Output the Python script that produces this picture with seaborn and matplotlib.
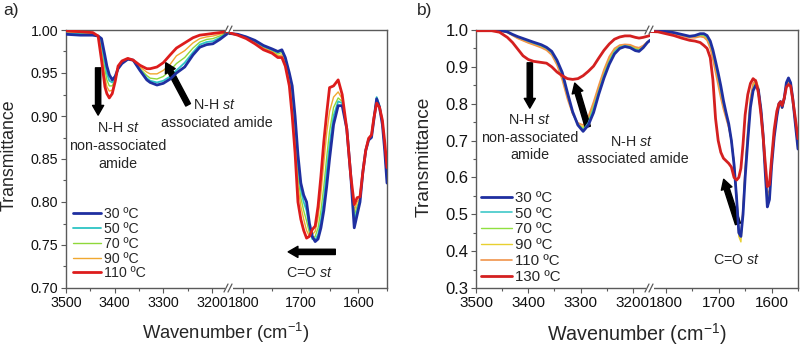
import matplotlib
matplotlib.use("Agg")
import matplotlib.pyplot as plt
import seaborn as sns
from matplotlib.lines import Line2D
from matplotlib.patches import Rectangle
from matplotlib.ticker import MultipleLocator, FormatStrFormatter

sns.set_style("ticks")
plt.rcParams["font.family"] = ["Liberation Sans", "DejaVu Sans"]
plt.rcParams["mathtext.fontset"] = "custom"
plt.rcParams["mathtext.rm"] = "Liberation Sans"
plt.rcParams["mathtext.it"] = "Liberation Sans:italic"

# ---------------- data: panel a ----------------
a_labels = ["30 ºC", "50 ºC", "70 ºC", "90 ºC", "110 ºC"]
a_colors = ["#1f2fa0", "#2cc4c4", "#8fd83a", "#f0a830", "#dd1c1c"]

a_x_hi = [3500, 3470, 3445, 3434, 3427, 3420, 3416, 3411, 3405, 3399, 3393, 3385, 3373,
          3362, 3348, 3334, 3327, 3313, 3300, 3286, 3273, 3256, 3239, 3225, 3211, 3198,
          3184, 3170, 3165]
a30_hi = [0.995, 0.994, 0.994, 0.993, 0.990, 0.970, 0.958, 0.948, 0.942, 0.946, 0.955, 0.961, 0.966,
          0.965, 0.953, 0.942, 0.939, 0.936, 0.938, 0.943, 0.950, 0.957, 0.971, 0.980, 0.983, 0.984,
          0.989, 0.995, 0.997]
a50_hi = [0.996, 0.995, 0.995, 0.993, 0.985, 0.962, 0.950, 0.941, 0.939, 0.944, 0.955, 0.962, 0.966,
          0.965, 0.954, 0.944, 0.941, 0.939, 0.941, 0.946, 0.953, 0.962, 0.974, 0.983, 0.986, 0.987,
          0.991, 0.996, 0.998]
a70_hi = [0.997, 0.996, 0.996, 0.993, 0.980, 0.954, 0.942, 0.935, 0.935, 0.942, 0.956, 0.963, 0.967,
          0.965, 0.955, 0.947, 0.944, 0.943, 0.946, 0.953, 0.961, 0.968, 0.979, 0.986, 0.989, 0.990,
          0.993, 0.997, 0.998]
a90_hi = [0.998, 0.997, 0.996, 0.993, 0.973, 0.945, 0.934, 0.929, 0.930, 0.940, 0.957, 0.963, 0.967,
          0.965, 0.957, 0.951, 0.949, 0.949, 0.953, 0.960, 0.970, 0.976, 0.985, 0.990, 0.992, 0.993,
          0.995, 0.997, 0.999]
a110_hi = [0.999, 0.998, 0.997, 0.993, 0.965, 0.934, 0.926, 0.921, 0.926, 0.940, 0.958, 0.964, 0.967,
           0.965, 0.959, 0.955, 0.955, 0.957, 0.962, 0.971, 0.979, 0.985, 0.991, 0.994, 0.995, 0.996,
           0.997, 0.998, 0.999]

a_x_lo = [1825, 1810, 1795, 1780, 1765, 1750, 1740, 1733, 1727, 1720, 1715, 1710, 1705, 1700,
          1695, 1690, 1685, 1680, 1675, 1670, 1665, 1660, 1655, 1650, 1643, 1635, 1628, 1620,
          1613, 1607, 1602, 1597, 1592, 1587, 1582, 1577, 1573, 1568, 1563, 1558, 1554, 1550]
a30_lo = [0.996, 0.995, 0.992, 0.988, 0.982, 0.978, 0.975, 0.977, 0.968, 0.950, 0.935, 0.900, 0.855, 0.822,
          0.808, 0.800, 0.775, 0.760, 0.754, 0.757, 0.770, 0.790, 0.818, 0.850, 0.890, 0.912, 0.912, 0.885,
          0.830, 0.770, 0.785, 0.800, 0.835, 0.860, 0.872, 0.875, 0.895, 0.920, 0.910, 0.890, 0.860, 0.822]
a50_lo = [0.996, 0.995, 0.992, 0.987, 0.981, 0.977, 0.974, 0.976, 0.967, 0.948, 0.928, 0.890, 0.843, 0.815,
          0.800, 0.790, 0.770, 0.757, 0.756, 0.762, 0.778, 0.802, 0.835, 0.866, 0.900, 0.917, 0.915, 0.885,
          0.830, 0.778, 0.790, 0.802, 0.835, 0.860, 0.873, 0.876, 0.896, 0.922, 0.912, 0.892, 0.862, 0.825]
a70_lo = [0.996, 0.995, 0.991, 0.986, 0.980, 0.976, 0.972, 0.974, 0.965, 0.945, 0.920, 0.880, 0.830, 0.805,
          0.790, 0.778, 0.764, 0.758, 0.760, 0.770, 0.790, 0.818, 0.852, 0.882, 0.910, 0.921, 0.917, 0.885,
          0.830, 0.784, 0.795, 0.803, 0.835, 0.860, 0.873, 0.877, 0.896, 0.921, 0.911, 0.893, 0.864, 0.830]
a90_lo = [0.996, 0.994, 0.991, 0.985, 0.979, 0.975, 0.970, 0.971, 0.962, 0.940, 0.912, 0.870, 0.818, 0.795,
          0.780, 0.767, 0.760, 0.762, 0.766, 0.782, 0.810, 0.845, 0.880, 0.905, 0.922, 0.928, 0.920, 0.885,
          0.830, 0.790, 0.800, 0.804, 0.835, 0.860, 0.874, 0.877, 0.897, 0.918, 0.911, 0.894, 0.867, 0.835]
a110_lo = [0.997, 0.994, 0.990, 0.984, 0.977, 0.973, 0.968, 0.968, 0.958, 0.935, 0.900, 0.857, 0.800, 0.780,
           0.767, 0.758, 0.760, 0.768, 0.772, 0.795, 0.830, 0.870, 0.903, 0.933, 0.935, 0.942, 0.925, 0.885,
           0.830, 0.797, 0.805, 0.806, 0.835, 0.860, 0.874, 0.878, 0.897, 0.915, 0.910, 0.895, 0.870, 0.840]

# ---------------- data: panel b ----------------
b_labels = ["30 ºC", "50 ºC", "70 ºC", "90 ºC", "110 ºC", "130 ºC"]
b_colors = ["#1f2fa0", "#40c8c8", "#90e040", "#e8d030", "#f0944a", "#d42020"]

b_x_hi = [3500, 3470, 3455, 3440, 3430, 3420, 3410, 3400, 3390, 3375, 3365, 3355, 3345, 3335, 3325,
          3315, 3305, 3295, 3285, 3275, 3265, 3255, 3245, 3235, 3225, 3215, 3205, 3195, 3188, 3180,
          3172, 3167]
b30_hi = [1.000, 1.000, 0.999, 0.995, 0.988, 0.982, 0.977, 0.972, 0.967, 0.960, 0.953, 0.942, 0.918, 0.885, 0.830,
          0.778, 0.742, 0.725, 0.742, 0.776, 0.826, 0.870, 0.907, 0.935, 0.950, 0.955, 0.952, 0.944, 0.942, 0.952,
          0.966, 0.972]
b50_hi = [1.000, 1.000, 0.999, 0.995, 0.987, 0.981, 0.976, 0.970, 0.965, 0.958, 0.951, 0.939, 0.914, 0.880, 0.826,
          0.776, 0.743, 0.728, 0.748, 0.785, 0.832, 0.876, 0.912, 0.940, 0.953, 0.957, 0.954, 0.946, 0.944, 0.953,
          0.966, 0.972]
b70_hi = [1.000, 1.000, 0.999, 0.994, 0.986, 0.979, 0.974, 0.968, 0.963, 0.956, 0.949, 0.937, 0.911, 0.875, 0.822,
          0.775, 0.745, 0.732, 0.753, 0.792, 0.838, 0.882, 0.918, 0.944, 0.955, 0.958, 0.956, 0.949, 0.947, 0.955,
          0.967, 0.972]
b90_hi = [1.000, 1.000, 0.998, 0.994, 0.986, 0.978, 0.972, 0.966, 0.961, 0.954, 0.947, 0.935, 0.908, 0.870, 0.818,
          0.773, 0.746, 0.736, 0.759, 0.798, 0.844, 0.887, 0.923, 0.947, 0.957, 0.959, 0.958, 0.951, 0.949, 0.956,
          0.967, 0.972]
b110_hi = [1.000, 1.000, 0.998, 0.993, 0.985, 0.977, 0.971, 0.965, 0.960, 0.952, 0.945, 0.932, 0.905, 0.865, 0.813,
           0.772, 0.748, 0.742, 0.765, 0.805, 0.850, 0.893, 0.928, 0.950, 0.959, 0.961, 0.960, 0.954, 0.952, 0.958,
           0.968, 0.973]
b130_hi = [0.998, 0.998, 0.994, 0.980, 0.966, 0.948, 0.930, 0.920, 0.915, 0.912, 0.910, 0.900, 0.886, 0.876, 0.868,
           0.866, 0.868, 0.876, 0.888, 0.902, 0.924, 0.945, 0.962, 0.975, 0.981, 0.984, 0.984, 0.980, 0.978, 0.980,
           0.983, 0.985]

b_x_lo = [1830, 1815, 1800, 1785, 1770, 1755, 1745, 1735, 1728, 1722, 1716, 1711, 1706, 1701, 1696, 1691,
          1686, 1681, 1676, 1671, 1666, 1662, 1658, 1654, 1650, 1645, 1640, 1635, 1630, 1625, 1620, 1616,
          1612, 1608, 1604, 1600, 1595, 1590, 1586, 1583, 1580, 1576, 1572, 1568, 1564, 1560, 1555, 1550]
b30_lo = [0.997, 0.998, 0.996, 0.993, 0.988, 0.983, 0.985, 0.990, 0.990, 0.985, 0.970, 0.946, 0.915, 0.883, 0.848, 0.808,
          0.775, 0.745, 0.700, 0.635, 0.540, 0.450, 0.440, 0.500, 0.600, 0.700, 0.790, 0.835, 0.850, 0.838, 0.783, 0.715,
          0.615, 0.520, 0.540, 0.630, 0.710, 0.765, 0.800, 0.806, 0.790, 0.815, 0.857, 0.870, 0.857, 0.815, 0.745, 0.677]
b50_lo = [0.997, 0.998, 0.996, 0.992, 0.987, 0.982, 0.984, 0.988, 0.988, 0.982, 0.966, 0.941, 0.908, 0.875, 0.840, 0.802,
          0.772, 0.743, 0.700, 0.637, 0.542, 0.452, 0.440, 0.503, 0.605, 0.706, 0.795, 0.838, 0.852, 0.840, 0.783, 0.715,
          0.617, 0.525, 0.543, 0.633, 0.712, 0.766, 0.800, 0.805, 0.790, 0.814, 0.855, 0.866, 0.855, 0.815, 0.745, 0.678]
b70_lo = [0.997, 0.997, 0.995, 0.991, 0.986, 0.981, 0.982, 0.986, 0.985, 0.978, 0.960, 0.933, 0.900, 0.866, 0.830, 0.796,
          0.768, 0.740, 0.700, 0.638, 0.543, 0.452, 0.443, 0.507, 0.612, 0.715, 0.803, 0.845, 0.857, 0.842, 0.784, 0.715,
          0.620, 0.535, 0.550, 0.637, 0.715, 0.768, 0.798, 0.803, 0.789, 0.812, 0.852, 0.864, 0.854, 0.815, 0.747, 0.680]
b90_lo = [0.997, 0.997, 0.995, 0.991, 0.985, 0.980, 0.981, 0.984, 0.983, 0.975, 0.955, 0.927, 0.893, 0.858, 0.822, 0.790,
          0.764, 0.738, 0.700, 0.640, 0.540, 0.440, 0.425, 0.505, 0.618, 0.722, 0.810, 0.850, 0.862, 0.844, 0.785, 0.715,
          0.622, 0.545, 0.557, 0.641, 0.718, 0.769, 0.797, 0.802, 0.788, 0.811, 0.850, 0.862, 0.853, 0.815, 0.748, 0.682]
b110_lo = [0.997, 0.997, 0.994, 0.990, 0.984, 0.979, 0.979, 0.982, 0.980, 0.972, 0.950, 0.920, 0.885, 0.850, 0.815, 0.785,
           0.760, 0.735, 0.700, 0.640, 0.545, 0.455, 0.445, 0.515, 0.625, 0.730, 0.815, 0.855, 0.865, 0.845, 0.785, 0.715,
           0.625, 0.555, 0.565, 0.645, 0.720, 0.770, 0.795, 0.800, 0.788, 0.810, 0.848, 0.860, 0.852, 0.815, 0.750, 0.685]
b130_lo = [0.996, 0.995, 0.990, 0.985, 0.978, 0.972, 0.970, 0.966, 0.958, 0.950, 0.925, 0.865, 0.760, 0.700, 0.668, 0.652,
           0.645, 0.638, 0.628, 0.600, 0.593, 0.600, 0.625, 0.690, 0.770, 0.825, 0.855, 0.868, 0.862, 0.830, 0.770, 0.710,
           0.640, 0.575, 0.580, 0.650, 0.730, 0.780, 0.800, 0.805, 0.795, 0.815, 0.845, 0.852, 0.848, 0.812, 0.760, 0.705]

a_hi = [a30_hi, a50_hi, a70_hi, a90_hi, a110_hi]
a_lo = [a30_lo, a50_lo, a70_lo, a90_lo, a110_lo]
b_hi = [b30_hi, b50_hi, b70_hi, b90_hi, b110_hi, b130_hi]
b_lo = [b30_lo, b50_lo, b70_lo, b90_lo, b110_lo, b130_lo]

# ---------------- styling ----------------
W, H = 800, 347
SPINE = "#5a5a5a"
fig = plt.figure(figsize=(W / 100, H / 100), dpi=100)


def add_ax(x0, x1, y0=30, y1=288):
    return fig.add_axes([x0 / W, 1 - y1 / H, (x1 - x0) / W, (y1 - y0) / H])


def fx(x):
    return x / W


def fy(y):
    return 1 - y / H


axA1 = add_ax(66, 229)
axA2 = add_ax(229, 387)
axB1 = add_ax(476, 650)
axB2 = add_ax(650, 798)

a_lw = [2.0, 1.3, 1.0, 1.0, 2.0]
a_z = [4, 3, 2, 2, 5]
b_lw = [2.0, 1.2, 1.0, 1.0, 1.2, 2.0]
b_z = [5, 4, 3, 2, 3, 6]

for ys_hi, ys_lo, c, lw, z in zip(a_hi, a_lo, a_colors, a_lw, a_z):
    sns.lineplot(x=a_x_hi, y=ys_hi, ax=axA1, color=c, linewidth=lw, sort=False, estimator=None, zorder=z)
    sns.lineplot(x=a_x_lo, y=ys_lo, ax=axA2, color=c, linewidth=lw, sort=False, estimator=None, zorder=z)
for ys_hi, ys_lo, c, lw, z in zip(b_hi, b_lo, b_colors, b_lw, b_z):
    sns.lineplot(x=b_x_hi, y=ys_hi, ax=axB1, color=c, linewidth=lw, sort=False, estimator=None, zorder=z)
    sns.lineplot(x=b_x_lo, y=ys_lo, ax=axB2, color=c, linewidth=lw, sort=False, estimator=None, zorder=z)


def style_pair(axL, axR, xlimL, xlimR, ylim, ymaj, ymin, fmt, xt_fs, yt_fs):
    for ax in (axL, axR):
        ax.set_facecolor("none")
        ax.set_ylim(ylim)
        ax.set_xlabel("")
        ax.set_ylabel("")
        for s in ax.spines.values():
            s.set_color(SPINE)
            s.set_linewidth(1.0)
        ax.tick_params(which="both", direction="out", color=SPINE, width=0.8, labelcolor="#111111")
        ax.tick_params(which="major", length=3.5, pad=2)
        ax.tick_params(which="minor", length=2)
        ax.tick_params(axis="x", labelsize=xt_fs)
        ax.xaxis.set_major_locator(MultipleLocator(100))
        ax.xaxis.set_minor_locator(MultipleLocator(50))
    axL.set_xlim(xlimL)
    axR.set_xlim(xlimR)
    axL.spines["right"].set_visible(False)
    axR.spines["left"].set_visible(False)
    axL.yaxis.set_major_locator(MultipleLocator(ymaj))
    axL.yaxis.set_minor_locator(MultipleLocator(ymin))
    axL.yaxis.set_major_formatter(FormatStrFormatter(fmt))
    axL.tick_params(axis="y", labelsize=yt_fs)
    axR.tick_params(axis="y", which="both", left=False, labelleft=False)
    axR.set_yticks([])


style_pair(axA1, axA2, (3500, 3165), (1825, 1550), (0.70, 1.00), 0.05, 0.025, "%.2f", 10.3, 10.3)
style_pair(axB1, axB2, (3500, 3167), (1830, 1550), (0.30, 1.00), 0.1, 0.05, "%.1f", 11.0, 12.0)


def break_marks(xp):
    for yp in (30, 288):
        fig.add_artist(Rectangle((fx(xp - 4), fy(yp + 1.5)), 8 / W, 3 / H, transform=fig.transFigure,
                                 facecolor="white", edgecolor="none", zorder=20))
        for dx in (-3, 1):
            fig.add_artist(Line2D([fx(xp + dx - 2), fx(xp + dx + 2)], [fy(yp + 4), fy(yp - 4)],
                                  transform=fig.transFigure, color=SPINE, lw=0.9, zorder=21))


break_marks(229)
break_marks(650)

# axis labels
fig.text(fx(9), fy(155), "Transmittance", rotation=90, ha="center", va="center", fontsize=12.8)
fig.text(fx(226), fy(333), "Wavenumber (cm$^{-1}$)", ha="center", va="center", fontsize=13.2)
fig.text(fx(424), fy(157), "Transmittance", rotation=90, ha="center", va="center", fontsize=13.8)
fig.text(fx(637), fy(334), "Wavenumber (cm$^{-1}$)", ha="center", va="center", fontsize=14.2)
fig.text(fx(3), fy(11), "a)", ha="left", va="center", fontsize=12.5)
fig.text(fx(417), fy(11), "b)", ha="left", va="center", fontsize=12.5)

# legends
hA = [Line2D([], [], color=c, lw=lw) for c, lw in zip(a_colors, a_lw)]
axA1.legend(hA, a_labels, loc="lower left", bbox_to_anchor=(0.04, 0.03), frameon=False, fontsize=10.2,
            handlelength=2.0, handletextpad=0.2, labelspacing=0.05, borderaxespad=0, borderpad=0)
hB = [Line2D([], [], color=c, lw=lw) for c, lw in zip(b_colors, b_lw)]
axB1.legend(hB, b_labels, loc="lower left", bbox_to_anchor=(0.028, 0.016), frameon=False, fontsize=10.8,
            handlelength=2.05, handletextpad=0.2, labelspacing=0.12, borderaxespad=0, borderpad=0)

# annotations
ann_fs = 10.3
arrow_kw = dict(arrowstyle="simple,head_width=0.8,head_length=0.7,tail_width=0.38", color="black",
                shrinkA=0, shrinkB=0)

# panel a
axA1.annotate("", xy=(3434, 0.901), xytext=(3434, 0.956), arrowprops=arrow_kw)
for txt, yv in [("N-H $\\mathit{st}$", 0.886), ("non-associated", 0.865), ("amide", 0.844)]:
    axA1.text(3393, yv, txt, ha="center", va="center", fontsize=ann_fs)
axA1.annotate("", xy=(3295, 0.962), xytext=(3249, 0.913), arrowprops=arrow_kw)
axA1.text(3194, 0.913, "N-H $\\mathit{st}$", ha="center", va="center", fontsize=ann_fs)
axA1.text(3190, 0.892, "associated amide", ha="center", va="center", fontsize=ann_fs)
axA2.annotate("", xy=(1722, 0.742), xytext=(1640, 0.742), arrowprops=arrow_kw)
axA2.text(1684, 0.717, "C=O $\\mathit{st}$", ha="center", va="center", fontsize=ann_fs)

# panel b
axB1.annotate("", xy=(3397, 0.788), xytext=(3397, 0.911), arrowprops=arrow_kw)
for txt, yv in [("N-H $\\mathit{st}$", 0.756), ("non-associated", 0.707), ("amide", 0.661)]:
    axB1.text(3397, yv, txt, ha="center", va="center", fontsize=ann_fs)
axB1.annotate("", xy=(3311, 0.856), xytext=(3286, 0.737), arrowprops=arrow_kw)
axB1.text(3202, 0.696, "N-H $\\mathit{st}$", ha="center", va="center", fontsize=ann_fs)
axB1.text(3200, 0.650, "associated amide", ha="center", va="center", fontsize=ann_fs)
axB2.annotate("", xy=(1690.6, 0.595), xytext=(1663.6, 0.474), arrowprops=arrow_kw)
axB2.text(1666, 0.376, "C=O $\\mathit{st}$", ha="center", va="center", fontsize=ann_fs)

fig.savefig("out.png", dpi=100)
